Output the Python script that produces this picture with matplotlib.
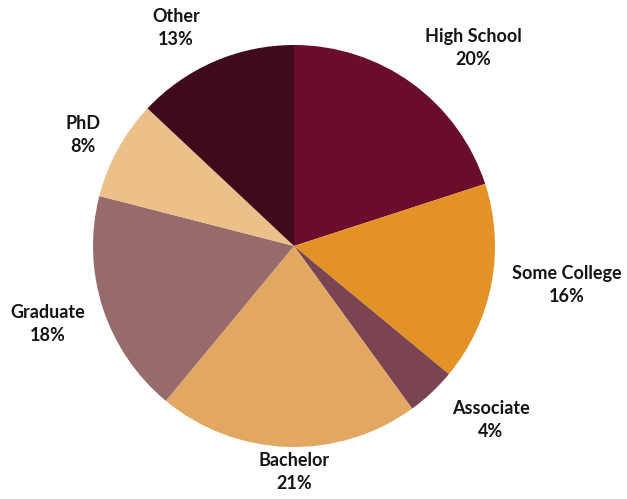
import matplotlib.pyplot as plt

categories = ["High School", "Some College", "Associate", "Bachelor", "Graduate", "PhD", "Other"]
shares = [20, 16, 4, 21, 18, 8, 13]
colors = ["#6a0d2c", "#e39325", "#7a4450", "#e2a862", "#976b6b", "#ecc089", "#400a1d"]

# where each two-line label sits, in pie radius units
label_xy = [(0.891, 0.985), (1.358, -0.194), (0.980, -0.866), (0.0, -1.124),
            (-1.224, -0.388), (-1.050, 0.552), (-0.587, 1.085)]

plt.rcParams['font.family'] = ['Lato', 'DejaVu Sans']

fig = plt.figure(figsize=(6.27, 4.99), dpi=100)
W, H = 627, 499
cx, cy, r = 294, 246, 201
ax = fig.add_axes([(cx - r) / W, (H - cy - r) / H, 2 * r / W, 2 * r / H])

ax.pie(shares, colors=colors, startangle=90, counterclock=False, radius=1,
       wedgeprops=dict(linewidth=0))

for name, val, (x, y) in zip(categories, shares, label_xy):
    ax.text(x, y, f"{name}\n{val}%", ha="center", va="center", fontsize=13,
            fontweight="bold", color="#141414", linespacing=1.42)

ax.set_xlim(-1, 1)
ax.set_ylim(-1, 1)
ax.set_aspect("equal")
ax.axis("off")

fig.savefig("out.png", dpi=100)
